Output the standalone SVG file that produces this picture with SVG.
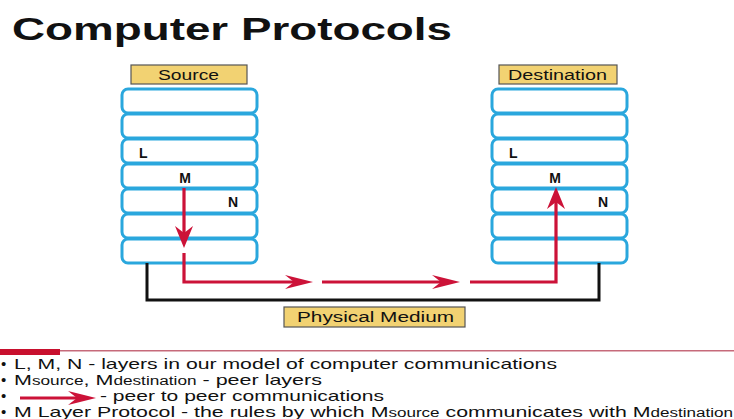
<svg xmlns="http://www.w3.org/2000/svg" width="734" height="419" viewBox="0 0 734 419">
<style>
text{font-family:"Liberation Sans",Arial,sans-serif;fill:#111}
.title{font-size:31px;font-weight:bold}
.layer{fill:#fff;stroke:#2aa7dd;stroke-width:3}
.lbl{fill:#f2d272;stroke:#555;stroke-width:1.2}
.lt{font-size:14px}
.ll{font-size:14px;font-weight:bold}
.red{fill:none;stroke:#cc1238;stroke-width:3.2}
.blk{fill:none;stroke:#111;stroke-width:3}
.bl{font-size:15px}
.sm{font-size:12px}
</style>
<defs>
<marker id="ahv" markerUnits="userSpaceOnUse" markerWidth="24" markerHeight="20" viewBox="0 -10 24 20" refX="7" refY="0" orient="auto" overflow="visible">
<path d="M0,-9 L22,0 L0,9 L7,0 Z" fill="#cc1238"/>
</marker>
<marker id="ahh" markerUnits="userSpaceOnUse" markerWidth="30" markerHeight="16" viewBox="0 -8 30 16" refX="9" refY="0" orient="auto" overflow="visible">
<path d="M0,-7 L28,0 L0,7 L9,0 Z" fill="#cc1238"/>
</marker>
</defs>
<rect width="734" height="419" fill="#fff"/>
<text class="title" x="12" y="40" textLength="440" lengthAdjust="spacingAndGlyphs">Computer Protocols</text>

<g id="source">
<rect class="lbl" x="131" y="65" width="116" height="19"/>
<text class="lt" x="158" y="80" textLength="61" lengthAdjust="spacingAndGlyphs">Source</text>
<rect class="layer" x="122" y="89" width="135" height="24" rx="6"/>
<rect class="layer" x="122" y="114" width="135" height="24" rx="6"/>
<rect class="layer" x="122" y="139" width="135" height="24" rx="6"/>
<rect class="layer" x="122" y="164" width="135" height="24" rx="6"/>
<rect class="layer" x="122" y="189" width="135" height="24" rx="6"/>
<rect class="layer" x="122" y="214" width="135" height="24" rx="6"/>
<rect class="layer" x="122" y="239" width="135" height="24" rx="6"/>
<text class="ll" x="139" y="158">L</text>
<text class="ll" x="185" y="183" text-anchor="middle">M</text>
<text class="ll" x="233" y="207" text-anchor="middle">N</text>
</g>

<g id="destination">
<rect class="lbl" x="499" y="65" width="118" height="19"/>
<text class="lt" x="508" y="80" textLength="99" lengthAdjust="spacingAndGlyphs">Destination</text>
<rect class="layer" x="492" y="89" width="135" height="24" rx="6"/>
<rect class="layer" x="492" y="114" width="135" height="24" rx="6"/>
<rect class="layer" x="492" y="139" width="135" height="24" rx="6"/>
<rect class="layer" x="492" y="164" width="135" height="24" rx="6"/>
<rect class="layer" x="492" y="189" width="135" height="24" rx="6"/>
<rect class="layer" x="492" y="214" width="135" height="24" rx="6"/>
<rect class="layer" x="492" y="239" width="135" height="24" rx="6"/>
<text class="ll" x="509" y="158">L</text>
<text class="ll" x="555" y="183" text-anchor="middle">M</text>
<text class="ll" x="603" y="207" text-anchor="middle">N</text>
</g>

<g id="medium">
<rect class="lbl" x="284" y="307" width="181" height="20"/>
<text class="lt" x="297" y="322" textLength="157" lengthAdjust="spacingAndGlyphs">Physical Medium</text>
</g>

<g id="connectors">
<path class="blk" d="M147,263 V300 H599 V263"/>
<path class="red" d="M184,188 V233" marker-end="url(#ahv)"/>
<path class="red" d="M184,253 V282 H294" marker-end="url(#ahh)"/>
<path class="red" d="M322,282 H441" marker-end="url(#ahh)"/>
<path class="red" d="M470,282 H556 V202" marker-end="url(#ahv)"/>
</g>

<g id="legend">
<rect x="0" y="349" width="60" height="6" fill="#c8102e"/>
<line x1="60" y1="350.8" x2="734" y2="350.8" stroke="#c66a7a" stroke-width="1.6"/>
<text class="bl" x="1" y="369" font-size="11">•</text>
<text class="bl" x="1" y="385" font-size="11">•</text>
<text class="bl" x="1" y="401" font-size="11">•</text>
<text class="bl" x="1" y="417" font-size="11">•</text>
<text class="bl" x="14" y="369" textLength="543" lengthAdjust="spacingAndGlyphs">L, M, N - layers in our model of computer communications</text>
<text class="bl" x="14" y="385" textLength="308" lengthAdjust="spacingAndGlyphs">M<tspan class="sm">source</tspan>, M<tspan class="sm">destination</tspan> - peer layers</text>
<path class="red" d="M20,398 H77" marker-end="url(#ahh)"/>
<text class="bl" x="100" y="401" textLength="284" lengthAdjust="spacingAndGlyphs">- peer to peer communications</text>
<text class="bl" x="14" y="417" textLength="719" lengthAdjust="spacingAndGlyphs">M Layer Protocol - the rules by which M<tspan class="sm">source</tspan> communicates with M<tspan class="sm">destination</tspan></text>
</g>
</svg>
